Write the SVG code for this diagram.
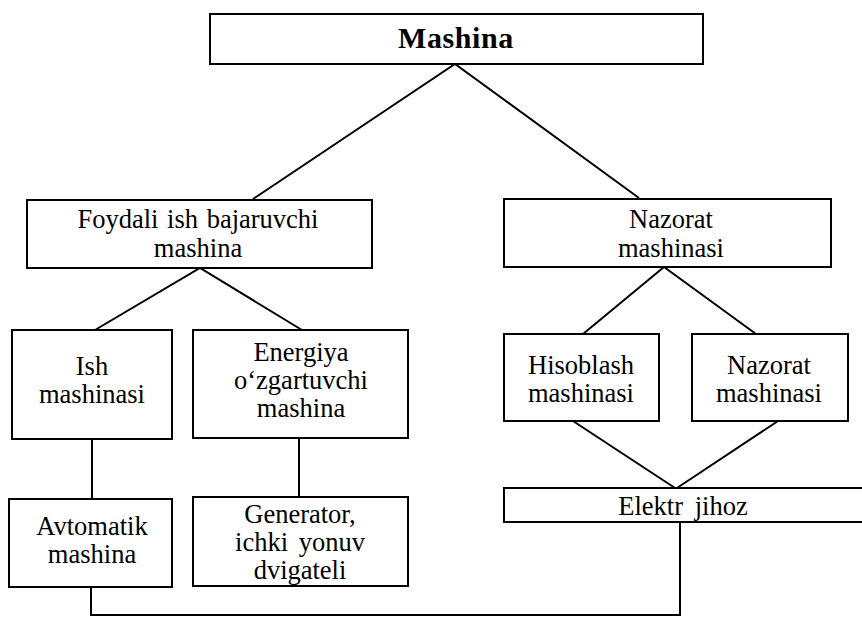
<svg xmlns="http://www.w3.org/2000/svg" width="862" height="620" viewBox="0 0 862 620">
<style>
  .box { fill: #ffffff; stroke: #000000; stroke-width: 2; }
  .conn { fill: none; stroke: #000000; stroke-width: 2; stroke-linejoin: miter; }
  .t { font-family: "Liberation Serif", "Times New Roman", serif; font-size: 26.5px; fill: #000000; text-anchor: middle; }
  .title { font-family: "Liberation Serif", "Times New Roman", serif; font-size: 30px; font-weight: bold; fill: #000000; text-anchor: middle; letter-spacing: 0.6px; }
</style>
<rect width="862" height="620" fill="#ffffff"/>
<g id="connectors">
  <polyline class="conn" points="253,199 455,64 639,198"/>
  <polyline class="conn" points="95,330 200,268 302,330"/>
  <polyline class="conn" points="583,334 664,267 756,334"/>
  <line class="conn" x1="92" y1="439" x2="92" y2="499"/>
  <line class="conn" x1="299" y1="438" x2="299" y2="497"/>
  <line class="conn" x1="573" y1="421" x2="675" y2="488"/>
  <line class="conn" x1="778" y1="421" x2="677" y2="488"/>
  <polyline class="conn" points="91,587 91,615 680,615 680,522"/>
</g>
<g id="mashina">
  <rect class="box" x="210" y="14" width="493" height="50"/>
  <text class="title" x="456" y="48">Mashina</text>
</g>
<g id="foydali">
  <rect class="box" x="27" y="200" width="345" height="68"/>
  <text class="t" x="198" y="228" word-spacing="2">Foydali ish bajaruvchi</text>
  <text class="t" x="198" y="257">mashina</text>
</g>
<g id="nazorat">
  <rect class="box" x="504" y="199" width="327" height="68"/>
  <text class="t" x="671" y="228">Nazorat</text>
  <text class="t" x="671" y="257">mashinasi</text>
</g>
<g id="ish">
  <rect class="box" x="12" y="330" width="160" height="109"/>
  <text class="t" x="92" y="375">Ish</text>
  <text class="t" x="92" y="403">mashinasi</text>
</g>
<g id="energiya">
  <rect class="box" x="193" y="330" width="215" height="108"/>
  <text class="t" x="301" y="361">Energiya</text>
  <text class="t" x="301" y="389">o‘zgartuvchi</text>
  <text class="t" x="301" y="417">mashina</text>
</g>
<g id="avtomatik">
  <rect class="box" x="9" y="499" width="163" height="88"/>
  <text class="t" x="92" y="535">Avtomatik</text>
  <text class="t" x="92" y="563">mashina</text>
</g>
<g id="generator">
  <rect class="box" x="193" y="497" width="215" height="89"/>
  <text class="t" x="300" y="523">Generator,</text>
  <text class="t" x="300" y="551" word-spacing="4">ichki yonuv</text>
  <text class="t" x="300" y="579">dvigateli</text>
</g>
<g id="hisoblash">
  <rect class="box" x="504" y="334" width="155" height="87"/>
  <text class="t" x="581" y="374">Hisoblash</text>
  <text class="t" x="581" y="402">mashinasi</text>
</g>
<g id="nazorat2">
  <rect class="box" x="692" y="334" width="156" height="87"/>
  <text class="t" x="769" y="374">Nazorat</text>
  <text class="t" x="769" y="402">mashinasi</text>
</g>
<g id="elektr">
  <rect class="box" x="504" y="488" width="370" height="34"/>
  <text class="t" x="683" y="515" word-spacing="5">Elektr jihoz</text>
</g>
</svg>
